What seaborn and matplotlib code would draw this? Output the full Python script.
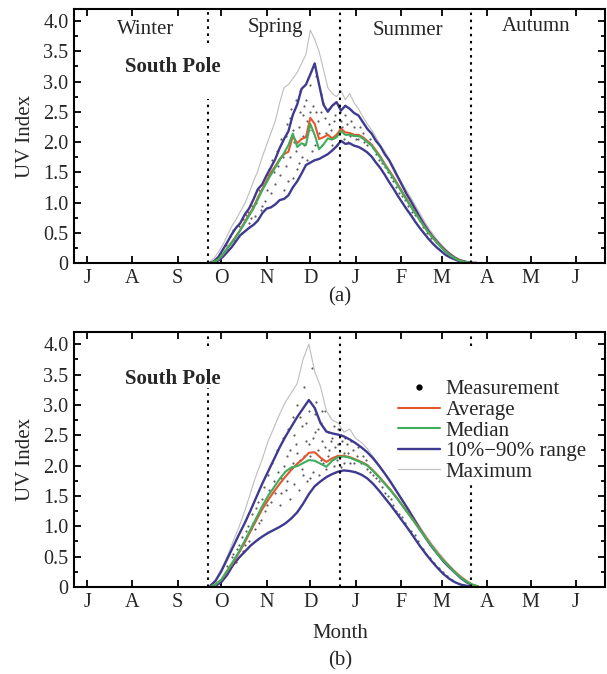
import matplotlib
matplotlib.use("Agg")
import matplotlib.pyplot as plt
from matplotlib.lines import Line2D
import seaborn as sns

# ---------------- data (day counted from 1 July) ----------------
month_ticks = [0, 31, 62, 92, 123, 153, 184, 215, 243, 274, 304, 335]
month_labels = ["J", "A", "S", "O", "N", "D", "J", "F", "M", "A", "M", "J"]
season_days = [83, 173, 263]

days_a = [84, 87, 90, 93, 96, 99, 102, 105, 108, 111, 114, 117, 120, 123, 126, 129,
          132, 135, 138, 141, 144, 147, 150, 153, 156, 159, 162, 165, 168, 171, 174,
          177, 180, 183, 186, 189, 192, 195, 198, 201, 204, 207, 210, 213, 216, 219,
          222, 225, 228, 231, 234, 237, 240, 243, 246, 249, 252, 255, 258, 261, 264, 267]
p90_a = [0.00, 0.03, 0.10, 0.22, 0.34, 0.47, 0.58, 0.66, 0.80, 0.90, 1.05, 1.22, 1.30,
         1.45, 1.58, 1.72, 1.90, 2.05, 2.18, 2.45, 2.62, 2.88, 2.95, 3.12, 3.30, 2.95,
         2.62, 2.50, 2.60, 2.66, 2.52, 2.60, 2.55, 2.48, 2.44, 2.33, 2.22, 2.14, 2.02,
         1.93, 1.80, 1.70, 1.56, 1.42, 1.28, 1.14, 1.02, 0.89, 0.76, 0.64, 0.53, 0.43,
         0.35, 0.27, 0.20, 0.14, 0.09, 0.05, 0.03, 0.01, 0.00, 0.00]
p10_a = [0.00, 0.01, 0.04, 0.10, 0.18, 0.26, 0.36, 0.46, 0.52, 0.58, 0.63, 0.70, 0.82,
         0.90, 0.92, 0.97, 1.04, 1.06, 1.12, 1.25, 1.35, 1.48, 1.62, 1.66, 1.70, 1.72,
         1.76, 1.80, 1.86, 1.93, 2.02, 1.97, 1.98, 1.94, 1.92, 1.88, 1.83, 1.76, 1.66,
         1.57, 1.46, 1.34, 1.23, 1.11, 1.00, 0.89, 0.79, 0.68, 0.58, 0.49, 0.40, 0.32,
         0.25, 0.19, 0.13, 0.09, 0.06, 0.03, 0.02, 0.01, 0.00, 0.00]
avg_a = [0.00, 0.02, 0.06, 0.14, 0.24, 0.34, 0.44, 0.55, 0.68, 0.80, 0.92, 1.08, 1.22,
         1.36, 1.50, 1.60, 1.72, 1.80, 1.84, 2.10, 1.98, 2.05, 2.08, 2.40, 2.30, 2.05,
         2.08, 2.12, 2.06, 2.12, 2.22, 2.16, 2.15, 2.12, 2.12, 2.08, 2.02, 1.96, 1.86,
         1.76, 1.64, 1.53, 1.42, 1.30, 1.18, 1.06, 0.94, 0.83, 0.72, 0.61, 0.51, 0.42,
         0.34, 0.26, 0.19, 0.13, 0.08, 0.05, 0.02, 0.01, 0.00, 0.00]
med_a = [0.00, 0.02, 0.06, 0.14, 0.24, 0.33, 0.43, 0.54, 0.66, 0.78, 0.90, 1.05, 1.20,
         1.33, 1.46, 1.58, 1.70, 1.82, 1.95, 2.14, 1.92, 1.98, 1.95, 2.30, 2.12, 1.88,
         1.96, 2.06, 2.04, 2.08, 2.18, 2.12, 2.12, 2.10, 2.10, 2.06, 2.00, 1.94, 1.84,
         1.74, 1.62, 1.51, 1.40, 1.28, 1.16, 1.04, 0.93, 0.82, 0.71, 0.60, 0.50, 0.41,
         0.33, 0.25, 0.18, 0.12, 0.08, 0.04, 0.02, 0.01, 0.00, 0.00]
max_a = [0.02, 0.08, 0.18, 0.30, 0.45, 0.60, 0.72, 0.85, 0.98, 1.15, 1.35, 1.52, 1.75,
         1.95, 2.15, 2.35, 2.65, 2.90, 2.95, 3.05, 3.15, 3.30, 3.45, 3.85, 3.70, 3.50,
         3.20, 2.90, 2.80, 2.75, 2.85, 2.70, 2.80, 2.65, 2.55, 2.42, 2.30, 2.20, 2.08,
         1.95, 1.85, 1.72, 1.60, 1.45, 1.32, 1.20, 1.08, 0.95, 0.82, 0.70, 0.58, 0.48,
         0.38, 0.30, 0.22, 0.16, 0.10, 0.06, 0.03, 0.02, 0.01, 0.00]

meas_a_day = [95, 98, 101, 104, 106, 109, 111, 113, 115, 117, 119, 121, 122, 124, 126,
              127, 129, 130, 132, 133, 135, 136, 137, 139, 140, 141, 142, 143, 144, 145,
              146, 147, 148, 149, 150, 151, 152, 153, 154, 155, 157, 158, 160, 161, 163,
              164, 166, 168, 170, 172, 174, 176, 178, 180, 183, 186, 189, 192, 196, 200,
              204, 208, 212, 216, 220, 225, 230, 236, 242, 248, 254,
              100, 103, 107, 110, 112, 116, 118, 120, 123, 125, 128, 131, 134, 136, 138,
              139, 141, 143, 145, 146, 148, 149, 151, 153, 154, 156, 157, 159, 160, 162,
              165, 167, 169, 171, 173, 175, 177, 179, 181, 184, 187, 190, 194, 198, 202,
              206, 210, 214, 218, 223, 228, 233, 239, 245, 251]
meas_a_val = [0.30, 0.45, 0.38, 0.62, 0.50, 0.80, 0.66, 0.95, 0.78, 1.10, 0.88, 1.30,
              1.02, 1.45, 1.15, 1.70, 1.30, 1.85, 1.45, 2.05, 1.20, 1.60, 2.30, 1.75,
              2.55, 1.40, 2.00, 2.70, 1.55, 2.25, 2.85, 1.75, 2.45, 1.95, 2.70, 1.70,
              2.20, 2.95, 1.85, 2.60, 3.10, 2.35, 2.80, 1.95, 2.40, 2.15, 2.30, 1.95,
              2.45, 2.15, 2.35, 2.05, 2.30, 2.10, 2.25, 2.05, 2.15, 1.95, 1.90, 1.70,
              1.58, 1.42, 1.25, 1.10, 0.95, 0.80, 0.60, 0.42, 0.28, 0.15, 0.06,
              0.55, 0.48, 0.72, 0.85, 0.74, 1.00, 1.20, 0.95, 1.20, 1.55, 1.50, 1.60,
              1.75, 2.10, 1.35, 2.40, 2.20, 1.85, 1.65, 2.50, 2.10, 2.60, 2.35, 2.50,
              2.20, 1.95, 2.50, 2.15, 2.50, 2.65, 2.55, 2.20, 2.35, 1.95, 2.50, 2.25,
              2.45, 2.00, 2.35, 2.05, 2.25, 2.00, 2.05, 1.80, 1.65, 1.50, 1.35, 1.15,
              1.05, 0.85, 0.70, 0.50, 0.35, 0.22, 0.10]

days_b = [84, 88, 92, 96, 100, 104, 108, 112, 116, 120, 124, 128, 132, 136, 140, 144,
          148, 152, 156, 160, 164, 168, 172, 176, 180, 184, 188, 192, 196, 200, 204, 208,
          212, 216, 220, 224, 228, 232, 236, 240, 244, 248, 252, 256, 260, 264, 268]
p90_b = [0.01, 0.10, 0.26, 0.46, 0.66, 0.86, 1.05, 1.26, 1.48, 1.70, 1.90, 2.10, 2.30,
         2.48, 2.64, 2.80, 2.94, 3.08, 2.95, 2.70, 2.56, 2.53, 2.51, 2.48, 2.43, 2.37,
         2.30, 2.22, 2.12, 2.00, 1.87, 1.73, 1.58, 1.43, 1.28, 1.12, 0.96, 0.81, 0.67,
         0.55, 0.43, 0.33, 0.24, 0.15, 0.08, 0.03, 0.00]
p10_b = [0.00, 0.02, 0.08, 0.20, 0.36, 0.48, 0.58, 0.68, 0.76, 0.83, 0.89, 0.94, 0.99,
         1.05, 1.13, 1.23, 1.37, 1.53, 1.66, 1.74, 1.81, 1.86, 1.90, 1.92, 1.91, 1.89,
         1.85, 1.79, 1.70, 1.59, 1.47, 1.35, 1.22, 1.09, 0.96, 0.82, 0.68, 0.55, 0.43,
         0.32, 0.22, 0.14, 0.08, 0.04, 0.02, 0.01, 0.00]
avg_b = [0.00, 0.04, 0.12, 0.26, 0.40, 0.56, 0.73, 0.92, 1.10, 1.28, 1.43, 1.57, 1.70,
         1.82, 1.93, 2.03, 2.11, 2.21, 2.22, 2.13, 2.06, 2.12, 2.16, 2.16, 2.14, 2.10,
         2.06, 2.01, 1.92, 1.82, 1.71, 1.60, 1.48, 1.35, 1.22, 1.09, 0.95, 0.82, 0.69,
         0.56, 0.45, 0.35, 0.25, 0.17, 0.10, 0.04, 0.01]
med_b = [0.00, 0.04, 0.12, 0.27, 0.42, 0.58, 0.76, 0.95, 1.14, 1.33, 1.50, 1.64, 1.78,
         1.90, 1.97, 1.99, 2.04, 2.09, 2.08, 2.03, 1.98, 2.08, 2.14, 2.15, 2.13, 2.09,
         2.05, 2.00, 1.91, 1.81, 1.70, 1.59, 1.47, 1.34, 1.21, 1.08, 0.94, 0.81, 0.68,
         0.55, 0.44, 0.34, 0.24, 0.16, 0.09, 0.04, 0.01]
max_b = [0.02, 0.12, 0.30, 0.50, 0.75, 0.98, 1.25, 1.55, 1.85, 2.10, 2.40, 2.62, 2.85,
         3.05, 3.20, 3.35, 3.75, 4.00, 3.55, 3.30, 2.90, 2.75, 2.70, 2.55, 2.60, 2.45,
         2.38, 2.28, 2.15, 2.02, 1.88, 1.75, 1.60, 1.45, 1.30, 1.15, 1.00, 0.86, 0.72,
         0.60, 0.48, 0.37, 0.27, 0.18, 0.10, 0.04, 0.01]

meas_b_day = [96, 99, 102, 104, 107, 109, 111, 113, 115, 117, 119, 121, 122, 124, 126,
              127, 129, 130, 132, 133, 134, 136, 137, 138, 139, 140, 141, 142, 143, 144,
              145, 146, 147, 148, 149, 150, 151, 152, 153, 154, 155, 156, 157, 158, 159,
              160, 161, 162, 163, 164, 165, 166, 168, 169, 170, 172, 173, 174, 175, 176,
              178, 180, 182, 185, 188, 191, 194, 198, 202, 206, 210, 214, 218, 222, 227,
              232, 238, 244, 250,
              100, 103, 106, 108, 110, 112, 114, 116, 118, 120, 123, 125, 128, 131, 133,
              135, 137, 139, 141, 142, 144, 146, 147, 149, 150, 152, 153, 155, 156, 158,
              160, 161, 163, 165, 167, 169, 171, 172, 174, 176, 177, 179, 181, 183, 186,
              189, 192, 196, 200, 204, 208, 212, 216, 220, 225, 230, 235, 241, 247]
meas_b_val = [0.35, 0.50, 0.42, 0.70, 0.60, 0.92, 0.75, 1.20, 0.95, 1.40, 1.10, 1.65,
              1.25, 1.85, 1.40, 2.05, 1.55, 2.25, 1.35, 1.80, 2.45, 1.60, 2.15, 2.60,
              1.45, 1.95, 2.80, 1.70, 2.35, 3.00, 1.60, 2.10, 2.65, 1.85, 3.30, 2.40,
              1.75, 2.90, 2.15, 3.60, 1.90, 2.55, 3.05, 2.25, 1.85, 2.70, 2.40, 2.05,
              2.90, 1.95, 2.55, 2.25, 2.45, 2.00, 2.30, 2.60, 2.15, 1.98, 2.40, 2.20,
              2.35, 2.05, 2.25, 2.15, 2.05, 2.10, 1.90, 1.80, 1.65, 1.50, 1.35, 1.20,
              1.05, 0.92, 0.75, 0.55, 0.40, 0.25, 0.12,
              0.55, 0.62, 0.82, 0.70, 1.00, 0.95, 1.05, 1.30, 1.05, 1.45, 1.35, 1.60,
              1.75, 1.90, 1.55, 2.00, 1.75, 2.25, 2.05, 2.50, 2.20, 2.80, 1.95, 2.15,
              2.70, 2.35, 1.80, 2.45, 2.85, 2.60, 2.10, 2.90, 2.30, 2.15, 2.40, 2.65,
              2.10, 2.35, 2.50, 2.05, 2.45, 2.20, 2.40, 2.05, 2.30, 2.15, 1.95, 1.85,
              1.75, 1.55, 1.45, 1.25, 1.15, 0.95, 0.85, 0.62, 0.48, 0.32, 0.18]

season_names = ["Winter", "Spring", "Summer", "Autumn"]
series_labels = ["Measurement", "Average", "Median", "10%\u221290% range", "Maximum"]

# ---------------- style ----------------
sns.set_theme(style="ticks")
plt.rcParams["font.family"] = ["Liberation Serif", "DejaVu Serif"]

C_BLUE = "#3d3a90"
C_AVG = "#e4572e"
C_MED = "#3fae5c"
C_MAX = "#bdbdbd"
FS = 14.5

fig = plt.figure(figsize=(6.07, 6.74), dpi=100)
ax_a = fig.add_axes([74 / 607, 1 - 263 / 674, 531 / 607, 254 / 674])
ax_b = fig.add_axes([74 / 607, 1 - 587 / 674, 531 / 607, 255 / 674])


def draw(ax, days, p90, p10, avg, med, mx, md, mv):
    sns.lineplot(x=days, y=mx, ax=ax, color=C_MAX, lw=0.8, estimator=None, sort=False)
    sns.scatterplot(x=md, y=mv, ax=ax, color="#333333", s=2.5, linewidth=0, alpha=0.8)
    sns.lineplot(x=days, y=p90, ax=ax, color=C_BLUE, lw=1.7, estimator=None, sort=False)
    sns.lineplot(x=days, y=p10, ax=ax, color=C_BLUE, lw=1.7, estimator=None, sort=False)
    sns.lineplot(x=days, y=avg, ax=ax, color=C_AVG, lw=1.5, estimator=None, sort=False)
    sns.lineplot(x=days, y=med, ax=ax, color=C_MED, lw=1.5, estimator=None, sort=False)

    ax.set_xlim(-9, 355)
    ax.set_ylim(0, 4.2)
    ax.set_xticks(month_ticks)
    ax.set_xticklabels(month_labels, fontsize=FS)
    ax.set_yticks([0, 0.5, 1.0, 1.5, 2.0, 2.5, 3.0, 3.5, 4.0])
    ax.set_yticklabels(["0", "0.5", "1.0", "1.5", "2.0", "2.5", "3.0", "3.5", "4.0"],
                       fontsize=FS)
    ax.set_yticks([0.25, 0.75, 1.25, 1.75, 2.25, 2.75, 3.25, 3.75], minor=True)
    ax.tick_params(which="both", direction="in", top=True, right=True, width=1.3,
                   color="black")
    ax.tick_params(which="major", length=5, pad=4)
    ax.tick_params(which="minor", length=3)
    for s in ax.spines.values():
        s.set_linewidth(1.5)
        s.set_color("black")
    ax.set_ylabel("UV Index", fontsize=15, labelpad=6)
    ax.set_xlabel("")


draw(ax_a, days_a, p90_a, p10_a, avg_a, med_a, max_a, meas_a_day, meas_a_val)
draw(ax_b, days_b, p90_b, p10_b, avg_b, med_b, max_b, meas_b_day, meas_b_val)

dot = (0, (1.2, 2.2))
# panel (a) dotted season boundaries
ax_a.plot([season_days[0]] * 2, [0, 2.71], color="black", lw=1.5, ls=dot)
ax_a.plot([season_days[0]] * 2, [3.64, 4.2], color="black", lw=1.5, ls=dot)
ax_a.plot([season_days[1]] * 2, [0, 4.2], color="black", lw=1.5, ls=dot)
ax_a.plot([season_days[2]] * 2, [0, 4.2], color="black", lw=1.5, ls=dot)
# panel (b)
ax_b.plot([season_days[0]] * 2, [0, 3.28], color="black", lw=1.5, ls=dot)
ax_b.plot([season_days[0]] * 2, [3.97, 4.2], color="black", lw=1.5, ls=dot)
ax_b.plot([season_days[1]] * 2, [0, 4.2], color="black", lw=1.5, ls=dot)
ax_b.plot([season_days[2]] * 2, [0, 1.75], color="black", lw=1.5, ls=dot)
ax_b.plot([season_days[2]] * 2, [3.97, 4.2], color="black", lw=1.5, ls=dot)

# season names
for name, xd, yv in zip(season_names, [40, 129, 220, 308], [3.86, 3.89, 3.84, 3.91]):
    ax_a.text(xd, yv, name, ha="center", va="center", fontsize=15)

ax_a.text(59, 3.24, "South Pole", ha="center", va="center", fontsize=15, fontweight="bold")
ax_b.text(59, 3.43, "South Pole", ha="center", va="center", fontsize=15, fontweight="bold")

# legend in (b)
handles = [
    Line2D([], [], ls="none", marker="o", ms=3.5, color="black"),
    Line2D([], [], color=C_AVG, lw=1.5),
    Line2D([], [], color=C_MED, lw=1.5),
    Line2D([], [], color=C_BLUE, lw=1.7),
    Line2D([], [], color=C_MAX, lw=0.8),
]
ax_b.legend(handles, series_labels, loc="upper left", bbox_to_anchor=(0.61, 0.813),
            frameon=False, fontsize=15, handlelength=2.0, handletextpad=0.3,
            labelspacing=0.05, borderpad=0, borderaxespad=0)

fig.text(340 / 607, 1 - 297 / 674, "(a)", ha="center", va="center", fontsize=15)
fig.text(340 / 607, 1 - 633 / 674, "Month", ha="center", va="center", fontsize=15)
fig.text(340 / 607, 1 - 661 / 674, "(b)", ha="center", va="center", fontsize=15)

fig.savefig("out.png", dpi=100)
